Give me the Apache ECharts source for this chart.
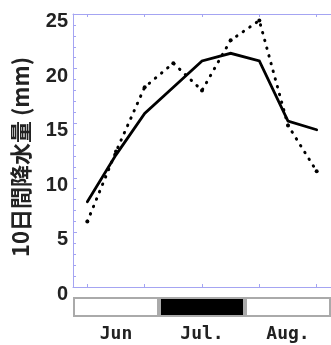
<!DOCTYPE html>
<html><head><meta charset="utf-8">
<script src="https://cdn.jsdelivr.net/npm/echarts@6/dist/echarts.min.js"></script>
<style>html,body{margin:0;padding:0;background:#fff}#c{width:331px;height:345px}</style>
</head><body><div id="c"></div>
<script>
// 10-day periods (dekads)
var dekads = ['6月上旬','6月中旬','6月下旬','7月上旬','7月中旬','7月下旬','8月上旬','8月中旬','8月下旬'];
// solid line (mm)
var solidSeries = [7.8, 12.1, 15.9, 18.3, 20.7, 21.4, 20.7, 15.2, 14.4];
// dotted line (mm)
var dottedSeries = [6.0, 12.4, 18.3, 20.5, 18.0, 22.6, 24.4, 14.8, 10.6];
// month strip
var months = ['Jun', 'Jul.', 'Aug.'];
var monthShaded = [0, 1, 0];
var yTicks = {min: 0, max: 25, interval: 5};
var yName = '10日間降水量 (mm)';

var axisBlue = '#a4a4f2';
var chart = echarts.init(document.getElementById('c'), null, {renderer: 'canvas'});
var xCommon = {
  type: 'category', data: dekads, gridIndex: 0, boundaryGap: true,
  axisLine: {show: true, lineStyle: {color: axisBlue, width: 1}},
  axisTick: {show: true, inside: true, alignWithLabel: true, length: 3, lineStyle: {color: axisBlue}},
  axisLabel: {show: false}, splitLine: {show: false}
};
chart.setOption({
  animation: false,
  grid: [
    {left: 73, top: 14, width: 263, height: 273},
    {left: 73, top: 297, width: 263, height: 20}
  ],
  xAxis: [
    Object.assign({}, xCommon, {position: 'bottom'}),
    Object.assign({}, xCommon, {position: 'top'}),
    {type: 'category', data: months, gridIndex: 1, boundaryGap: true,
     axisLine: {show: false}, axisTick: {show: false}, splitLine: {show: false},
     axisLabel: {fontSize: 18, fontWeight: 'bold', color: '#222', margin: 8, fontFamily: 'DejaVu Sans Mono'}}
  ],
  yAxis: [
    {type: 'value', gridIndex: 0, min: yTicks.min, max: yTicks.max, interval: yTicks.interval,
     axisLine: {show: true, lineStyle: {color: axisBlue, width: 1}},
     axisTick: {show: true, inside: true, length: 4, lineStyle: {color: axisBlue}},
     minorTick: {show: true, splitNumber: 5, length: 3, lineStyle: {color: axisBlue}},
     splitLine: {show: false},
     axisLabel: {fontSize: 20, fontWeight: 'bold', color: '#222', margin: 5, fontFamily: 'Liberation Sans',
                 verticalAlign: 'top', lineHeight: 15}},
    {type: 'value', gridIndex: 1, min: 0, max: 1, show: false}
  ],
  graphic: [{
    type: 'text', x: 21, y: 157, rotation: Math.PI / 2,
    style: {text: yName, fontSize: 22, fontWeight: 'bold', fontFamily: 'Noto Sans CJK JP', fill: '#222',
            align: 'center', verticalAlign: 'middle'}
  }],
  series: [
    {type: 'line', xAxisIndex: 0, yAxisIndex: 0, data: dottedSeries, symbol: 'circle', symbolSize: 4,
     itemStyle: {color: '#000'},
     lineStyle: {color: '#000', width: 3, type: [0.5, 7.5], cap: 'round'}},
    {type: 'line', xAxisIndex: 0, yAxisIndex: 0, data: solidSeries, symbol: 'none',
     lineStyle: {color: '#000', width: 2.8, cap: 'round', join: 'miter'}},
    {type: 'bar', xAxisIndex: 2, yAxisIndex: 1, barWidth: '100%',
     data: monthShaded.map(function (f) { return {value: 1, itemStyle: {color: f ? '#000' : '#fff'}}; }),
     itemStyle: {borderColor: '#aaa', borderWidth: 2}}
  ]
});
</script></body></html>
